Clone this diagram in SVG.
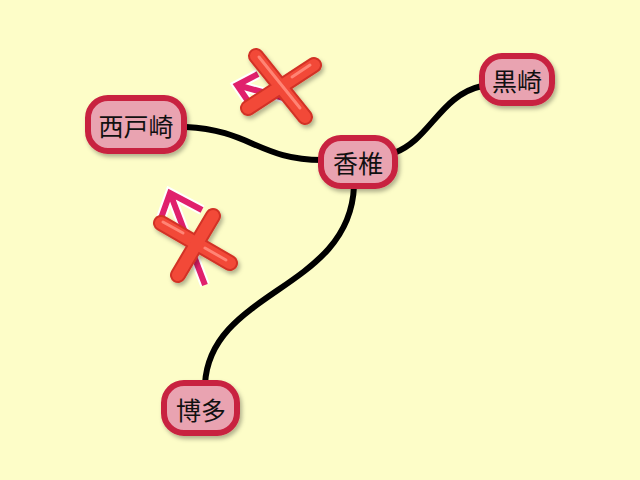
<svg xmlns="http://www.w3.org/2000/svg" width="640" height="480" viewBox="0 0 640 480">
<defs>
<filter id="sh" x="-20%" y="-20%" width="150%" height="150%">
<feDropShadow dx="2" dy="3" stdDeviation="2" flood-color="#000" flood-opacity="0.3"/>
</filter>
<style>
.node rect{fill:#e9a3b1;stroke:#c8203f;stroke-width:6;filter:url(#sh)}
.node text{font-family:"Noto Sans CJK JP","Noto Sans",sans-serif;font-size:25px;fill:#111;text-anchor:middle;dominant-baseline:central}
.edge{fill:none;stroke:#000;stroke-width:6;stroke-linecap:round}
.arw-o{fill:none;stroke:#fff;stroke-width:10;stroke-linecap:butt;stroke-linejoin:miter}
.arw{fill:none;stroke:#e0206c;stroke-width:6;stroke-linecap:butt;stroke-linejoin:miter}
.x-b{stroke:#d23226;stroke-width:16;stroke-linecap:round}
.x-m{stroke:#f24838;stroke-width:12;stroke-linecap:round}
.x-h{stroke:#ff8474;stroke-width:3;stroke-linecap:round}
</style>
</defs>
<rect x="0" y="0" width="640" height="480" fill="#fdfdc8"/>
<g id="connectors">
<path class="edge" d="M186,127 C250,130 260,160 322,160"/>
<path class="edge" d="M394,153 C430,140 440,95 482,86"/>
<path class="edge" d="M354,186 C350,290 210,290 205,384"/>
</g>
<g id="mark1">
<path class="arw-o" d="M298,102 L237,85 M258,74 L237,85 L250,104"/>
<path class="arw" d="M298,102 L237,85 M258,74 L237,85 L250,104"/>
<g filter="url(#sh)">
<line class="x-b" x1="256" y1="56" x2="305" y2="117"/>
<line class="x-b" x1="314" y1="65" x2="248" y2="108"/>
<line class="x-m" x1="256" y1="56" x2="305" y2="117"/>
<line class="x-m" x1="314" y1="65" x2="248" y2="108"/>
<line class="x-h" x1="259" y1="57" x2="300" y2="108"/>
<line class="x-h" x1="310" y1="65" x2="292" y2="77"/>
</g>
</g>
<g id="mark2">
<path class="arw-o" d="M205,285 L170,193 M202,210 L170,193 L160,221"/>
<path class="arw" d="M205,285 L170,193 M202,210 L170,193 L160,221"/>
<g filter="url(#sh)">
<line class="x-b" x1="161" y1="223" x2="230" y2="263"/>
<line class="x-b" x1="213" y1="216" x2="178" y2="275"/>
<line class="x-m" x1="161" y1="223" x2="230" y2="263"/>
<line class="x-m" x1="213" y1="216" x2="178" y2="275"/>
<line class="x-h" x1="163" y1="222" x2="183" y2="233"/>
<line class="x-h" x1="205" y1="248" x2="226" y2="260"/>
</g>
</g>
<g id="node-nishitozaki" class="node">
<rect x="88" y="98" width="96" height="53" rx="20"/>
<text x="136" y="125">西戸崎</text>
</g>
<g id="node-kashii" class="node">
<rect x="321" y="138" width="74" height="48" rx="20"/>
<text x="358" y="162">香椎</text>
</g>
<g id="node-kurosaki" class="node">
<rect x="482" y="56" width="70" height="47" rx="20"/>
<text x="517" y="80">黒崎</text>
</g>
<g id="node-hakata" class="node">
<rect x="164" y="383" width="73" height="50" rx="20"/>
<text x="201" y="409">博多</text>
</g>
</svg>
